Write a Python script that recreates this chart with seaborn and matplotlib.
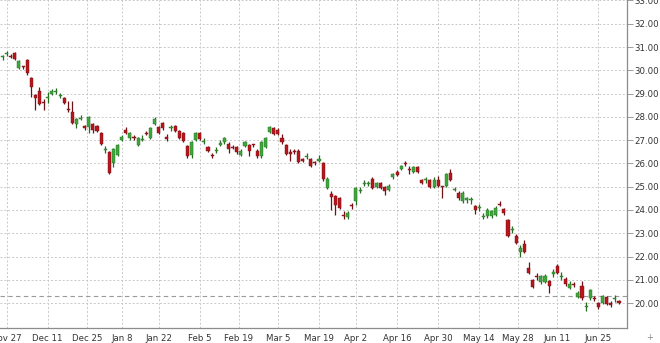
import numpy as np
import pandas as pd
import matplotlib
matplotlib.use("Agg")
import matplotlib.pyplot as plt
import seaborn as sns

# ---------------- data ----------------
start_date = "2017-11-24"
end_date = "2018-07-02"
holidays = ["2017-12-25", "2018-01-01", "2018-01-15", "2018-02-19", "2018-03-30", "2018-05-28"]

open_ = [30.57, 30.68, 30.63, 30.75, 30.10, 30.17, 30.45, 29.65, 28.92, 29.10,
         28.62, 28.80, 28.98, 29.08, 28.88, 28.82, 28.33, 28.20, 27.70, 27.92,
         27.60, 27.55, 27.70, 27.60, 27.32, 26.57, 26.50, 26.00, 26.35, 27.02,
         27.45, 27.10, 27.12, 26.80, 27.02, 27.32, 27.10, 27.70, 27.55, 27.75,
         27.12, 27.50, 27.62, 27.40, 27.30, 26.75, 26.35, 27.00, 27.30, 26.92,
         26.72, 26.37, 26.52, 26.80, 26.90, 26.85, 26.72, 26.70, 26.35, 26.75,
         26.80, 26.82, 26.55, 26.30, 26.70, 27.35, 27.50, 27.45, 27.10, 26.80,
         26.47, 26.52, 26.55, 26.20, 26.27, 26.20, 26.07, 26.12, 26.00, 24.95,
         24.70, 24.60, 24.50, 23.77, 23.70, 24.22, 24.40, 24.82, 25.12, 25.12,
         25.35, 25.00, 25.15, 25.00, 24.85, 25.40, 25.65, 25.75, 26.02, 25.77,
         25.65, 25.85, 25.30, 25.27, 25.30, 25.00, 25.30, 25.02, 25.05, 25.60,
         24.87, 24.75, 24.40, 24.45, 24.43, 24.15, 24.08, 23.68, 23.75, 23.75,
         23.80, 24.27, 24.05, 23.55, 23.12, 22.90, 22.20, 22.55, 21.50, 21.00,
         21.17, 20.90, 20.90, 20.95, 21.27, 21.60, 21.12, 21.05, 20.65, 20.82,
         20.25, 20.75, 19.83, 20.20, 20.22, 20.00, 20.00, 20.25, 20.02, 20.17,
         20.07]
high = [30.64, 30.85, 30.72, 30.80, 30.45, 30.20, 30.50, 29.70, 29.00, 29.30,
        28.75, 29.05, 29.20, 29.22, 29.02, 28.85, 28.70, 28.68, 27.95, 28.10,
        27.65, 28.05, 27.75, 27.65, 27.35, 26.75, 26.55, 26.65, 26.85, 27.20,
        27.55, 27.35, 27.20, 27.15, 27.20, 27.40, 27.55, 28.00, 27.60, 27.80,
        27.25, 27.65, 27.65, 27.45, 27.35, 26.80, 26.95, 27.35, 27.35, 27.10,
        26.75, 26.45, 26.70, 27.00, 27.15, 26.90, 26.80, 26.75, 26.60, 26.95,
        26.85, 26.85, 26.60, 26.95, 27.15, 27.60, 27.55, 27.50, 27.25, 26.85,
        26.60, 26.60, 26.60, 26.25, 26.45, 26.25, 26.10, 26.35, 26.05, 25.40,
        24.80, 24.65, 24.55, 23.95, 23.95, 24.30, 25.00, 25.00, 25.30, 25.25,
        25.40, 25.20, 25.20, 25.05, 25.10, 25.60, 25.70, 25.95, 26.10, 25.90,
        25.90, 25.90, 25.35, 25.40, 25.35, 25.40, 25.45, 25.05, 25.60, 25.75,
        25.00, 24.80, 24.80, 24.55, 24.55, 24.20, 24.25, 23.85, 24.10, 24.00,
        24.15, 24.40, 24.10, 23.60, 23.30, 22.95, 22.50, 22.70, 21.75, 21.05,
        21.30, 21.20, 21.25, 21.00, 21.45, 21.70, 21.35, 21.10, 20.95, 20.90,
        20.50, 20.95, 20.05, 20.60, 20.30, 20.05, 20.35, 20.30, 20.10, 20.35,
        20.15]
low = [30.45, 30.62, 30.52, 30.45, 30.05, 30.05, 29.80, 28.85, 28.30, 28.50,
       28.30, 28.60, 28.95, 29.00, 28.80, 28.55, 28.20, 27.70, 27.50, 27.85,
       27.45, 27.30, 27.30, 27.35, 26.80, 26.45, 25.55, 25.85, 26.30, 26.95,
       27.25, 27.00, 27.00, 26.75, 26.95, 27.20, 27.05, 27.65, 27.25, 27.45,
       26.95, 27.40, 27.35, 27.05, 26.90, 26.25, 26.25, 26.95, 27.00, 26.85,
       26.50, 26.25, 26.45, 26.75, 26.85, 26.45, 26.60, 26.40, 26.30, 26.70,
       26.30, 26.70, 26.25, 26.25, 26.65, 27.30, 27.20, 27.20, 26.85, 26.35,
       26.10, 26.40, 26.00, 26.05, 26.20, 25.85, 25.95, 26.05, 25.25, 24.90,
       24.00, 23.80, 24.05, 23.60, 23.60, 24.05, 24.20, 24.75, 25.05, 25.05,
       24.90, 24.95, 24.90, 24.65, 24.80, 25.35, 25.45, 25.70, 25.90, 25.55,
       25.60, 25.60, 25.10, 25.15, 24.95, 24.95, 25.00, 24.50, 25.00, 25.25,
       24.80, 24.45, 24.30, 24.30, 24.25, 23.82, 23.95, 23.60, 23.65, 23.65,
       23.75, 24.15, 23.80, 22.85, 23.00, 22.55, 22.00, 22.15, 21.25, 20.65,
       21.00, 20.80, 20.85, 20.45, 21.10, 21.25, 21.00, 20.75, 20.60, 20.70,
       20.20, 20.15, 19.65, 20.15, 20.10, 19.75, 19.95, 19.90, 19.85, 20.05,
       19.95]
close = [30.62, 30.76, 30.58, 30.50, 30.40, 30.13, 29.90, 29.27, 28.80, 28.55,
         28.58, 28.87, 29.12, 29.13, 28.93, 28.60, 28.28, 27.75, 27.92, 27.97,
         27.50, 28.00, 27.45, 27.40, 26.85, 26.62, 25.60, 26.60, 26.80, 27.12,
         27.30, 27.30, 27.08, 27.10, 27.07, 27.27, 27.50, 27.92, 27.30, 27.50,
         27.07, 27.58, 27.40, 27.10, 26.95, 26.30, 26.90, 27.30, 27.05, 26.97,
         26.55, 26.33, 26.58, 26.87, 27.10, 26.60, 26.68, 26.50, 26.55, 26.90,
         26.55, 26.78, 26.30, 26.90, 27.10, 27.55, 27.25, 27.25, 26.90, 26.40,
         26.43, 26.48, 26.05, 26.10, 26.32, 25.90, 26.03, 26.17, 25.35, 25.35,
         24.55, 24.20, 24.10, 23.73, 23.87, 24.18, 24.95, 24.87, 25.17, 25.17,
         24.95, 25.15, 24.95, 24.80, 25.05, 25.55, 25.50, 25.90, 25.98, 25.73,
         25.85, 25.65, 25.15, 25.32, 25.00, 25.30, 25.05, 24.98, 25.55, 25.30,
         24.92, 24.50, 24.75, 24.50, 24.48, 24.00, 24.13, 23.73, 24.00, 23.95,
         24.10, 24.23, 23.85, 22.90, 23.17, 22.60, 22.35, 22.20, 21.30, 20.70,
         21.13, 21.15, 21.15, 20.75, 21.32, 21.30, 21.17, 20.80, 20.80, 20.78,
         20.45, 20.20, 19.88, 20.55, 20.18, 19.85, 20.30, 19.95, 19.90, 20.22,
         20.03]

tick_labels = ["Nov 27", "Dec 11", "Dec 25", "Jan 8", "Jan 22", "Feb 5", "Feb 19",
               "Mar 5", "Mar 19", "Apr 2", "Apr 16", "Apr 30", "May 14", "May 28",
               "Jun 11", "Jun 25"]
tick_dates = ["2017-11-27", "2017-12-11", "2017-12-25", "2018-01-08", "2018-01-22",
              "2018-02-05", "2018-02-19", "2018-03-05", "2018-03-19", "2018-04-02",
              "2018-04-16", "2018-04-30", "2018-05-14", "2018-05-28", "2018-06-11",
              "2018-06-25"]
y_ticks = [20, 21, 22, 23, 24, 25, 26, 27, 28, 29, 30, 31, 32, 33]
last_price = 20.30

# ---------------- build ----------------
days = pd.bdate_range(start_date, end_date)
days = days[~days.isin(pd.to_datetime(holidays))]
n = min(len(days), len(open_))
df = pd.DataFrame({"date": days[:n], "open": open_[:n], "high": high[:n],
                   "low": low[:n], "close": close[:n]})
df["x"] = np.arange(n)
df["up"] = df["close"] >= df["open"]

tick_pos = []
for d in pd.to_datetime(tick_dates):
    i = days.searchsorted(d)
    tick_pos.append(i if (i < len(days) and days[i] == d) else i - 0.5)

sns.set_theme(style="white")
plt.rcParams["font.family"] = ["DejaVu Sans"]

W, H = 660, 343
fig = plt.figure(figsize=(W / 100, H / 100), dpi=100)
ax = fig.add_axes([0, 15 / H, 627 / W, 328 / H])

GREEN, RED = "#3da83a", "#b8161c"
GREEN_W, RED_W = "#256b22", "#6e1014"

for up, body_c, wick_c in [(True, GREEN, GREEN_W), (False, RED, RED_W)]:
    sub = df[df["up"] == up]
    ax.vlines(sub["x"], sub["low"], sub["high"], color=wick_c, lw=0.9, zorder=3)
    lo = np.minimum(sub["open"], sub["close"])
    h = np.abs(sub["close"] - sub["open"])
    hh = np.maximum(h, 0.05)
    bottom = lo - (hh - h) / 2
    ax.bar(sub["x"], hh, bottom=bottom, width=0.75, color=body_c,
           edgecolor=wick_c, linewidth=0.3, zorder=4)

ax.axhline(last_price, color="#9a9a9a", lw=0.8, ls=(0, (4, 3)), zorder=2)

ax.set_xlim(-0.61, 151.95)
ax.set_ylim(18.93, 33.02)

ax.set_xticks(tick_pos)
ax.set_xticklabels(tick_labels)
ax.set_yticks(y_ticks)
ax.set_yticklabels([f"{v:.2f}" for v in y_ticks])
ax.yaxis.tick_right()

grid_kw = dict(color="#c8c8c8", lw=0.7, ls=(0, (2, 2)))
ax.grid(True, axis="both", **grid_kw)
ax.set_axisbelow(True)

for s in ["left", "top"]:
    ax.spines[s].set_visible(False)
for s in ["right", "bottom"]:
    ax.spines[s].set_color("#8c8c8c")
    ax.spines[s].set_linewidth(0.9)

ax.tick_params(axis="x", which="both", length=3, width=0.6, color="#8c8c8c",
               labelsize=6.2, labelcolor="#333333", pad=1.5)
ax.tick_params(axis="y", which="both", length=4, width=0.6, color="#8c8c8c",
               labelsize=6.2, labelcolor="#333333", pad=1.5, right=True, left=False)
ax.set_xlabel("")
ax.set_ylabel("")

fig.text(650 / W, 5 / H, "+", ha="center", va="center", fontsize=6, color="#888888")

fig.savefig("out.png", dpi=100)
